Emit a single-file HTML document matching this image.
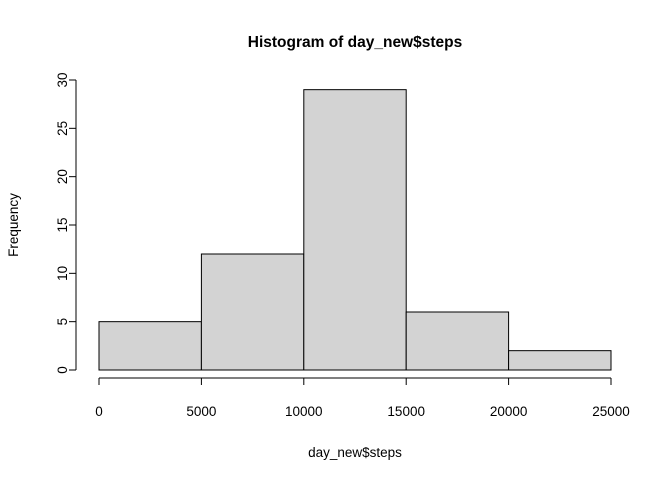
<!DOCTYPE html>
<html><head><meta charset="utf-8"><style>
body{margin:0;background:#fff}
svg{display:block;font-family:"Liberation Sans",Arial,sans-serif}
</style></head><body>
<svg id="chart" width="672" height="480" viewBox="0 0 672 480">
<text x="355" y="47" text-anchor="middle" font-size="15.5" font-weight="bold">Histogram of day_new$steps</text>
<text x="355" y="457" text-anchor="middle" font-size="13.5">day_new$steps</text>
<text transform="translate(18,225) rotate(-90)" text-anchor="middle" font-size="13.5">Frequency</text>
<g id="bars"></g><g id="xaxis"></g><g id="yaxis"></g>
</svg>
<script>
const breaks = [0, 5000, 10000, 15000, 20000, 25000];
const counts = [5, 12, 29, 6, 2];
const xTicks = [0, 5000, 10000, 15000, 20000, 25000];
const yTicks = [0, 5, 10, 15, 20, 25, 30];
const NS = "http://www.w3.org/2000/svg";
function xs(v){return 99 + v/25000*512;}
function ys(v){return 370 - v/30*290;}
function mk(tag, attrs, parent){const e=document.createElementNS(NS,tag);for(const k in attrs)e.setAttribute(k,attrs[k]);parent.appendChild(e);return e;}
const bars=document.getElementById('bars');
counts.forEach((c,i)=>{
  const r=mk('rect',{x:xs(breaks[i]),y:ys(c),width:xs(breaks[i+1])-xs(breaks[i]),height:ys(0)-ys(c),fill:'#d3d3d3',stroke:'#000','stroke-width':1},bars);
  
  
});
const xa=document.getElementById('xaxis');
const xl=mk('line',{x1:xs(xTicks[0]),x2:xs(xTicks[xTicks.length-1]),y1:378,y2:378,stroke:'#000'},xa);


xTicks.forEach(t=>{
  mk('line',{x1:xs(t),x2:xs(t),y1:378,y2:385,stroke:'#000'},xa);
  const tx=mk('text',{x:xs(t),y:416,'text-anchor':'middle','font-size':13.5},xa);
  tx.textContent=t;
  
  
});
const ya=document.getElementById('yaxis');
const yl=mk('line',{x1:76,x2:76,y1:ys(yTicks[0]),y2:ys(yTicks[yTicks.length-1]),stroke:'#000'},ya);


yTicks.forEach(t=>{
  mk('line',{x1:69,x2:76,y1:ys(t),y2:ys(t),stroke:'#000'},ya);
  const tx=mk('text',{transform:`translate(67,${ys(t)}) rotate(-90)`,'text-anchor':'middle','font-size':13.5},ya);
  tx.textContent=t;
  
  
});
</script>
</body></html>
